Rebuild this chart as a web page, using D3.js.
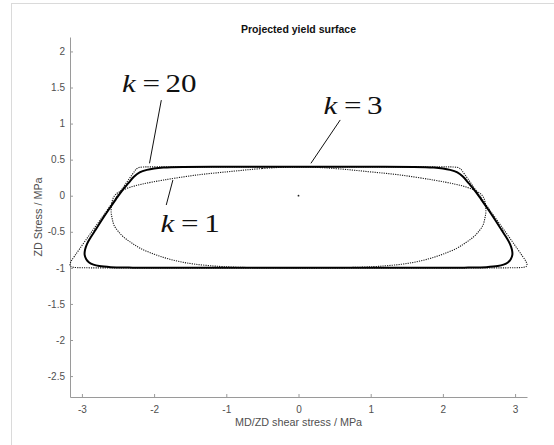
<!DOCTYPE html>
<html>
<head>
<meta charset="utf-8">
<script src="https://cdn.jsdelivr.net/npm/d3@7"></script>
<style>
  html, body { margin: 0; padding: 0; background: #fff; }
  svg { display: block; }
</style>
</head>
<body>
<svg id="chart" width="554" height="445"></svg>
<script>
// Projected yield surface: MD/ZD shear stress vs ZD stress, for three exponents k.

const xTicks = [-3, -2, -1, 0, 1, 2, 3];
const yTicks = [-2.5, -2, -1.5, -1, -0.5, 0, 0.5, 1, 1.5, 2];
const xDomain = [-3.165, 3.165];
const yDomain = [-2.79, 2.2];

// k = 1 (dotted, elliptical)
const surfaceK1 = [
  [0, 0.40], [-0.5, 0.377], [-0.95, 0.335], [-1.41, 0.287], [-1.87, 0.217], [-2.17, 0.16],
  [-2.34, 0.115], [-2.45, 0.07], [-2.53, 0.02], [-2.57, -0.04], [-2.59, -0.13], [-2.595, -0.23],
  [-2.58, -0.32], [-2.555, -0.41], [-2.50, -0.49], [-2.42, -0.575], [-2.31, -0.655], [-2.19, -0.73],
  [-2.0, -0.81], [-1.82, -0.87], [-1.64, -0.915], [-1.455, -0.946], [-1.25, -0.968], [-1.04, -0.983],
  [-0.7, -0.995], [-0.35, -0.999], [0, -1.0],
  [0.35, -0.999], [0.7, -0.995], [1.04, -0.983], [1.25, -0.968], [1.455, -0.946], [1.64, -0.915],
  [1.82, -0.87], [2.0, -0.81], [2.19, -0.73], [2.31, -0.655], [2.42, -0.575], [2.50, -0.49],
  [2.555, -0.41], [2.58, -0.32], [2.595, -0.23], [2.59, -0.13], [2.57, -0.04], [2.53, 0.02],
  [2.45, 0.07], [2.34, 0.115], [2.17, 0.16], [1.87, 0.217], [1.41, 0.287], [0.95, 0.335], [0.5, 0.377]
];

// k = 3 (solid)
const surfaceK3 = [
  [0, 0.40], [-1.0, 0.40], [-1.6, 0.398], [-1.87, 0.39], [-2.0, 0.378], [-2.1, 0.358], [-2.2, 0.322],
  [-2.28, 0.263], [-2.36, 0.17], [-2.44, 0.075], [-2.53, -0.05], [-2.63, -0.195], [-2.72, -0.33],
  [-2.81, -0.47], [-2.88, -0.58], [-2.93, -0.67], [-2.957, -0.75], [-2.962, -0.82], [-2.94, -0.88],
  [-2.90, -0.925], [-2.84, -0.955], [-2.76, -0.975], [-2.6, -0.99], [-2.35, -0.996], [-2.0, -0.999],
  [-1.0, -1.0], [0, -1.0],
  [1.0, -1.0], [2.0, -0.999], [2.35, -0.996], [2.6, -0.99], [2.76, -0.975], [2.84, -0.955],
  [2.90, -0.925], [2.94, -0.88], [2.962, -0.82], [2.957, -0.75], [2.93, -0.67], [2.88, -0.58],
  [2.81, -0.47], [2.72, -0.33], [2.63, -0.195], [2.53, -0.05], [2.44, 0.075], [2.36, 0.17],
  [2.28, 0.263], [2.2, 0.322], [2.1, 0.358], [2.0, 0.378], [1.87, 0.39], [1.6, 0.398], [1.0, 0.40]
];

// k = 20 (dotted, nearly polygonal)
const surfaceK20 = [
  [0, 0.40], [-1.5, 0.40], [-2.05, 0.40], [-2.15, 0.398], [-2.21, 0.39], [-2.245, 0.37], [-2.27, 0.34],
  [-2.45, 0.085], [-2.65, -0.2], [-2.95, -0.62], [-3.10, -0.835], [-3.15, -0.91], [-3.165, -0.955],
  [-3.155, -0.98], [-3.12, -0.992], [-3.0, -0.998], [-2.7, -1.0], [0, -1.0],
  [2.7, -1.0], [3.0, -0.998], [3.12, -0.992], [3.155, -0.98], [3.165, -0.955], [3.15, -0.91],
  [3.10, -0.835], [2.95, -0.62], [2.65, -0.2], [2.45, 0.085], [2.27, 0.34], [2.245, 0.37],
  [2.21, 0.39], [2.15, 0.398], [2.05, 0.40], [1.5, 0.40]
];

const origin = [0, 0];

// Annotation labels: text anchor (left, baseline), leader line start/end, in data units
const labelNames = ["20", "3", "1"];
const labelAnchors = [[-2.446, 1.432], [0.346, 1.131], [-1.91, -0.508]];
const leaderLines = [
  [[-1.90, 1.325], [-2.064, 0.449]],
  [[0.578, 1.05], [0.172, 0.449]],
  [[-1.74, 0.217], [-1.832, -0.129]]
];

const svg = d3.select("#chart");
const W = 554, H = 445;
const m = { left: 70, right: 27, top: 37, bottom: 48 };

svg.append("rect").attr("width", W).attr("height", H).attr("fill", "#fff");
// figure frame
svg.append("rect")
  .attr("x", 11.5).attr("y", 3.5).attr("width", 700).attr("height", 700)
  .attr("fill", "none").attr("stroke", "#dadada").attr("stroke-width", 1);

const x = d3.scaleLinear().domain(xDomain).range([m.left, W - m.right]);
const y = d3.scaleLinear().domain(yDomain).range([H - m.bottom, m.top]);

const axisColor = "#9a9a9a";
const tickText = "#4f4f4f";
const sans = "'Liberation Sans', Arial, Helvetica, sans-serif";

const gx = svg.append("g")
  .attr("transform", `translate(0,${H - m.bottom})`)
  .call(d3.axisBottom(x).tickValues(xTicks).tickFormat(d => String(d)).tickSizeInner(-3).tickSizeOuter(0).tickPadding(9));
const gy = svg.append("g")
  .attr("transform", `translate(${m.left},0)`)
  .call(d3.axisLeft(y).tickValues(yTicks).tickFormat(d => String(d)).tickSizeInner(-3).tickSizeOuter(0).tickPadding(5));

[gx, gy].forEach(g => {
  g.select(".domain").attr("stroke", axisColor);
  g.selectAll(".tick line").attr("stroke", axisColor);
  g.selectAll(".tick text").attr("fill", tickText).attr("font-family", sans).attr("font-size", 10);
});

// Title and axis labels
svg.append("text")
  .attr("x", (x.range()[0] + x.range()[1]) / 2).attr("y", 32.5)
  .attr("text-anchor", "middle").attr("font-family", sans).attr("font-weight", "bold")
  .attr("font-size", 10.5).attr("fill", "#111").text("Projected yield surface");
svg.append("text")
  .attr("x", (x.range()[0] + x.range()[1]) / 2).attr("y", 425.5)
  .attr("text-anchor", "middle").attr("font-family", sans)
  .attr("font-size", 10.8).attr("fill", tickText).text("MD/ZD shear stress / MPa");
svg.append("text")
  .attr("transform", `translate(42,${(y.range()[0] + y.range()[1]) / 2}) rotate(-90)`)
  .attr("text-anchor", "middle").attr("font-family", sans)
  .attr("font-size", 10.8).attr("fill", tickText).text("ZD Stress / MPa");

// Curves
const line = d3.line()
  .x(d => x(d[0])).y(d => y(d[1]))
  .curve(d3.curveCatmullRomClosed.alpha(0.5));

const plot = svg.append("g");
plot.append("path").datum(surfaceK1).attr("d", line)
  .attr("fill", "none").attr("stroke", "#1a1a1a").attr("stroke-width", 1.1).attr("stroke-dasharray", "1.2 1.1");
plot.append("path").datum(surfaceK20).attr("d", line)
  .attr("fill", "none").attr("stroke", "#1a1a1a").attr("stroke-width", 1.1).attr("stroke-dasharray", "1.2 1.1");
plot.append("path").datum(surfaceK3).attr("d", line)
  .attr("fill", "none").attr("stroke", "#000").attr("stroke-width", 2);

plot.append("circle").attr("cx", x(origin[0])).attr("cy", y(origin[1])).attr("r", 0.9).attr("fill", "#222");

// Annotations: math-style labels "k = n" with an italic k, slightly widened glyphs
const serif = "'Liberation Serif', 'Times New Roman', Times, serif";
leaderLines.forEach(seg => {
  plot.append("line")
    .attr("x1", x(seg[0][0])).attr("y1", y(seg[0][1]))
    .attr("x2", x(seg[1][0])).attr("y2", y(seg[1][1]))
    .attr("stroke", "#111").attr("stroke-width", 1);
});
labelNames.forEach((name, i) => {
  const t = plot.append("text")
    .attr("transform", `translate(${x(labelAnchors[i][0])},${y(labelAnchors[i][1])}) scale(1.22,1)`)
    .attr("font-family", serif).attr("font-size", 25.5).attr("fill", "#111");
  t.append("tspan").attr("font-style", "italic").text("k");
  t.append("tspan").attr("dx", 5.5).text("=");
  t.append("tspan").attr("dx", 4.5).text(name);
});
</script>
</body>
</html>
